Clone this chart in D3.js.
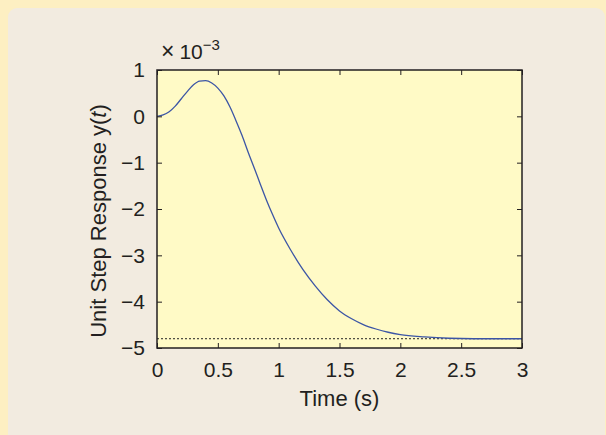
<!DOCTYPE html>
<html>
<head>
<meta charset="utf-8">
<script src="https://cdn.jsdelivr.net/npm/d3@7"></script>
<style>
  body { margin: 0; background: #fdefc2; }
  svg { display: block; font-family: "Liberation Sans", Arial, sans-serif; }
</style>
</head>
<body>
<script>
"use strict";

// Data (y in units of 1e-3)

const timeValues = [0, 0.05, 0.1, 0.15, 0.2, 0.25, 0.3, 0.35, 0.4, 0.45, 0.5, 0.55, 0.6, 0.65,
    0.7, 0.75, 0.8, 0.85, 0.9, 0.95, 1.0, 1.1, 1.2, 1.3, 1.4, 1.5, 1.6, 1.7, 1.8, 1.9, 2.0,
    2.2, 2.4, 2.6, 2.8, 3.0];
const responseValues = [0, 0.03, 0.10, 0.22, 0.38, 0.54, 0.68, 0.76, 0.77, 0.72, 0.61, 0.44, 0.20, -0.10,
    -0.42, -0.78, -1.12, -1.47, -1.81, -2.12, -2.41, -2.89, -3.31, -3.66, -3.96, -4.20, -4.37, -4.50, -4.59, -4.66, -4.71,
    -4.76, -4.79, -4.80, -4.80, -4.80];
const finalValue = -4.8;
const xTicks = [0, 0.5, 1, 1.5, 2, 2.5, 3];
const xTickLabels = ['0', '0.5', '1', '1.5', '2', '2.5', '3'];
const yTicks = [1, 0, -1, -2, -3, -4, -5];
const yTickLabels = ['1', '0', '\u22121', '\u22122', '\u22123', '\u22124', '\u22125'];

// Size parameters

const width = 606;
const height = 435;
const plot = { left: 157, right: 522, top: 70, bottom: 348 };
const tickLen = 5;
const textColor = '#231f20';

const svg = d3.select('body')
    .append('svg')
    .attr('width', width)
    .attr('height', height);

// Background panel
svg.append('rect')
    .attr('x', 8).attr('y', 8)
    .attr('width', 597).attr('height', height + 20)
    .attr('rx', 9)
    .attr('fill', '#f2ebe0');

const x = d3.scaleLinear().domain([0, 3]).range([plot.left, plot.right]);
const y = d3.scaleLinear().domain([-5, 1]).range([plot.bottom, plot.top]);

// Plot area
svg.append('rect')
    .attr('x', plot.left).attr('y', plot.top)
    .attr('width', plot.right - plot.left)
    .attr('height', plot.bottom - plot.top)
    .attr('fill', '#fffac6');

// Steady-state dashed line
svg.append('line')
    .attr('x1', x(0)).attr('x2', x(3))
    .attr('y1', y(finalValue)).attr('y2', y(finalValue))
    .attr('stroke', '#222')
    .attr('stroke-width', 1)
    .attr('stroke-dasharray', '2,2');

// Response curve
const line = d3.line()
    .x((d, i) => x(timeValues[i]))
    .y(d => y(d))
    .curve(d3.curveMonotoneX);

svg.append('path')
    .datum(responseValues)
    .attr('d', line)
    .attr('fill', 'none')
    .attr('stroke', '#3c55a5')
    .attr('stroke-width', 1.3);

/********
 * Axes *
 ********/

const xAxisBottom = d3.axisBottom(x).tickValues(xTicks)
    .tickSizeInner(-tickLen).tickSizeOuter(0).tickPadding(14)
    .tickFormat((d, i) => xTickLabels[i]);
const xAxisTop = d3.axisTop(x).tickValues(xTicks)
    .tickSizeInner(-tickLen).tickSizeOuter(0).tickFormat('');
const yAxisLeft = d3.axisLeft(y).tickValues(yTicks)
    .tickSizeInner(-tickLen).tickSizeOuter(0).tickPadding(12)
    .tickFormat((d, i) => yTickLabels[i]);
const yAxisRight = d3.axisRight(y).tickValues(yTicks)
    .tickSizeInner(-tickLen).tickSizeOuter(0).tickFormat('');

const axes = [
    [xAxisBottom, `translate(0,${plot.bottom})`],
    [xAxisTop, `translate(0,${plot.top})`],
    [yAxisLeft, `translate(${plot.left},0)`],
    [yAxisRight, `translate(${plot.right},0)`]
];

axes.forEach(([axis, tr]) => {
    const g = svg.append('g').attr('transform', tr).call(axis);
    g.select('.domain').remove();
    g.selectAll('.tick line').attr('stroke', textColor).attr('stroke-width', 1);
    g.selectAll('.tick text')
        .attr('fill', textColor)
        .attr('font-size', 21)
        .attr('font-family', '"Liberation Sans", Arial, sans-serif');
});

// Plot frame
svg.append('rect')
    .attr('x', plot.left).attr('y', plot.top)
    .attr('width', plot.right - plot.left)
    .attr('height', plot.bottom - plot.top)
    .attr('fill', 'none')
    .attr('stroke', textColor)
    .attr('stroke-width', 1.5);

// Exponent label
const expLabel = svg.append('text')
    .attr('x', 161).attr('y', 59)
    .attr('fill', textColor)
    .attr('font-size', 21);
expLabel.append('tspan').attr('font-size', 23).text('\u00d7');
expLabel.append('tspan').attr('dx', 5).text('10');
expLabel.append('tspan')
    .attr('dy', -9).attr('font-size', 15)
    .text('\u22123');

// Axis titles
svg.append('text')
    .attr('x', (plot.left + plot.right) / 2)
    .attr('y', 406)
    .attr('text-anchor', 'middle')
    .attr('fill', textColor)
    .attr('font-size', 22)
    .text('Time (s)');

const yTitle = svg.append('text')
    .attr('transform', `translate(106,${(plot.top + plot.bottom) / 2 + 12}) rotate(-90)`)
    .attr('text-anchor', 'middle')
    .attr('fill', textColor)
    .attr('font-size', 22);
yTitle.append('tspan').text('Unit Step Response ');
yTitle.append('tspan').text('y(');
yTitle.append('tspan').attr('font-style', 'italic').text('t');
yTitle.append('tspan').text(')');
</script>
</body>
</html>
